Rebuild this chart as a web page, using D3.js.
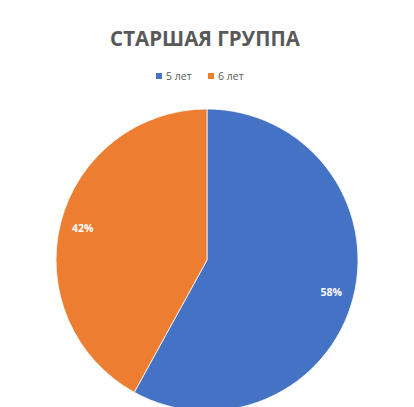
<!DOCTYPE html>
<html>
<head>
<meta charset="utf-8">
<script src="https://cdn.jsdelivr.net/npm/d3@7"></script>
<style>
  html, body { margin: 0; padding: 0; background: #fff; }
  svg { display: block; font-family: "Open Sans", "Noto Sans", sans-serif; }
</style>
</head>
<body>
<script>
const title = "СТАРШАЯ ГРУППА";
const categories = ["5 лет", "6 лет"];
const values = [58, 42];
const colors = ["#4472C4", "#ED7D31"];

const width = 414;
const height = 407;

const svg = d3
  .select("body")
  .append("svg")
  .attr("width", width)
  .attr("height", height);

// title
svg
  .append("text")
  .attr("x", 205)
  .attr("y", 46)
  .attr("text-anchor", "middle")
  .style("font-size", "20.5px")
  .style("font-weight", "bold")
  .style("fill", "#595959")
  .text(title);

// legend
const legend = svg
  .selectAll(".legend")
  .data(categories)
  .enter()
  .append("g")
  .attr("class", "legend")
  .attr("transform", (d, i) => `translate(${156 + i * 52},0)`);

legend
  .append("rect")
  .attr("x", 0)
  .attr("y", 73)
  .attr("width", 6)
  .attr("height", 6)
  .attr("fill", (d, i) => colors[i]);

legend
  .append("text")
  .attr("x", 10)
  .attr("y", 80)
  .style("font-size", "10.5px")
  .style("fill", "#595959")
  .text((d) => d);

// pie
const cx = 207;
const cy = 260;
const radius = 151;

const pie = d3.pie().sort(null).value((d) => d);
const arcs = pie(values);

const arc = d3.arc().innerRadius(0).outerRadius(radius);
const labelArc = d3.arc().innerRadius(radius * 0.85).outerRadius(radius * 0.85);

const g = svg.append("g").attr("transform", `translate(${cx},${cy})`);

g.selectAll("path")
  .data(arcs)
  .enter()
  .append("path")
  .attr("d", arc)
  .attr("fill", (d, i) => colors[i])
  .attr("stroke", "#fff")
  .attr("stroke-width", 0.75);

const total = d3.sum(values);

g.selectAll(".label")
  .data(arcs)
  .enter()
  .append("text")
  .attr("class", "label")
  .attr("transform", (d) => `translate(${labelArc.centroid(d)})`)
  .attr("text-anchor", "middle")
  .attr("dy", "0.35em")
  .style("font-size", "10.5px")
  .style("font-weight", "bold")
  .style("fill", "#fff")
  .text((d) => Math.round((d.data / total) * 100) + "%");
</script>
</body>
</html>
